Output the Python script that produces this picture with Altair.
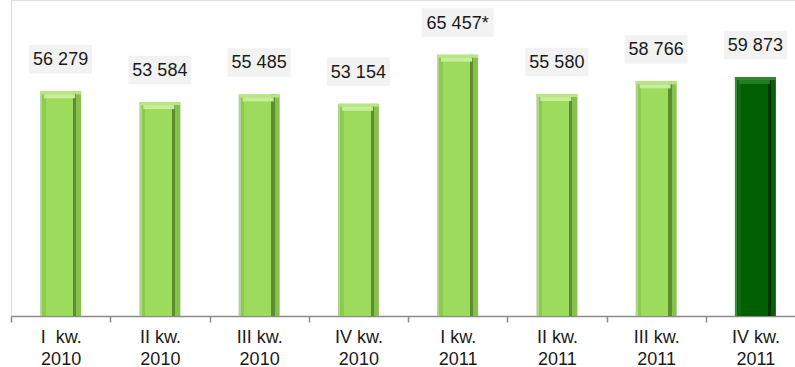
import altair as alt
import pandas as pd

quarters = ["I\u00a0 kw.", "II kw.", "III kw.", "IV kw.", "I kw.", "II kw.", "III kw.", "IV kw."]
years = ["2010", "2010", "2010", "2010", "2011", "2011", "2011", "2011"]
values = [56279, 53584, 55485, 53154, 65457, 55580, 58766, 59873]
labels = ["56 279", "53 584", "55 485", "53 154", "65 457*", "55 580", "58 766", "59 873"]
highlight = [False, False, False, False, False, False, False, True]

df = pd.DataFrame({
    "cat": [q + "|" + y for q, y in zip(quarters, years)],
    "value": values,
    "label": labels,
    "hl": highlight,
})

FONT = "Liberation Sans Narrow, Arial Narrow, Liberation Sans, sans-serif"
order = list(df["cat"])

x = alt.X("cat:N", sort=order, title=None,
          scale=alt.Scale(range=[0, 794], paddingInner=0, paddingOuter=0),
          axis=alt.Axis(labelExpr="split(datum.label, '|')", labelAngle=0,
                        tickBand="extent", labelFont=FONT, labelFontSize=18,
                        labelColor="#1a1a1a", labelLineHeight=22, labelPadding=6,
                        domainColor="#8a8a8a", domainWidth=1.5, tickColor="#8a8a8a",
                        tickWidth=1.5, tickSize=6, grid=False))
y = alt.Y("value:Q", scale=alt.Scale(domain=[0, 79140]), axis=None)

base = alt.Chart(df)

light_grad = alt.Gradient(gradient="linear", x1=0, y1=0, x2=1, y2=0, stops=[
    alt.GradientStop(offset=0, color="#b3cf9a"),
    alt.GradientStop(offset=0.056, color="#b3cf9a"),
    alt.GradientStop(offset=0.057, color="#8ccb4c"),
    alt.GradientStop(offset=0.14, color="#8ccb4c"),
    alt.GradientStop(offset=0.141, color="#9ddb5c"),
    alt.GradientStop(offset=0.8, color="#9ddb5c"),
    alt.GradientStop(offset=0.801, color="#5c8c33"),
    alt.GradientStop(offset=0.88, color="#5c8c33"),
    alt.GradientStop(offset=0.881, color="#86c249"),
    alt.GradientStop(offset=1, color="#86c249"),
])
dark_grad = alt.Gradient(gradient="linear", x1=0, y1=0, x2=1, y2=0, stops=[
    alt.GradientStop(offset=0, color="#3d8a3d"),
    alt.GradientStop(offset=0.056, color="#3d8a3d"),
    alt.GradientStop(offset=0.057, color="#0b6a0b"),
    alt.GradientStop(offset=0.14, color="#0b6a0b"),
    alt.GradientStop(offset=0.141, color="#005f00"),
    alt.GradientStop(offset=0.8, color="#005f00"),
    alt.GradientStop(offset=0.801, color="#003400"),
    alt.GradientStop(offset=0.88, color="#003400"),
    alt.GradientStop(offset=0.881, color="#0c5e0c"),
    alt.GradientStop(offset=1, color="#0c5e0c"),
])

bars_light = base.transform_filter("!datum.hl").mark_bar(
    width=41, color=light_grad).encode(x=x, y=y)
bars_dark = base.transform_filter("datum.hl").mark_bar(
    width=41, color=dark_grad).encode(x=x, y=y)

top_light = base.transform_filter("!datum.hl").mark_tick(
    size=41, thickness=3, color="#b9e584", yOffset=1.5, opacity=1).encode(x=x, y=y)
top_light2 = base.transform_filter("!datum.hl").mark_tick(
    size=31, thickness=4, color="#c6ee98", yOffset=5, xOffset=-1, opacity=1).encode(x=x, y=y)
top_dark = base.transform_filter("datum.hl").mark_tick(
    size=41, thickness=3, color="#2f8a2f", yOffset=1.5, opacity=1).encode(x=x, y=y)
top_dark2 = base.transform_filter("datum.hl").mark_tick(
    size=31, thickness=4, color="#237e23", yOffset=5, xOffset=-1, opacity=1).encode(x=x, y=y)

boxes = base.transform_calculate(
    w="9 * length(datum.label) + 9"
).transform_calculate(
    h="28.6 / datum.w",
    sz="datum.w * datum.w",
).transform_calculate(
    path="'M-1,' + (-datum.h) + 'L1,' + (-datum.h) + 'L1,' + datum.h + 'L-1,' + datum.h + 'Z'"
).mark_point(filled=True, fill="#f2f2f2", opacity=1, strokeWidth=0, yOffset=-32).encode(
    x=x, y=y,
    shape=alt.Shape("path:N", scale=None, legend=None),
    size=alt.Size("sz:Q", scale=None, legend=None),
)

texts = base.mark_text(font=FONT, fontSize=18, color="#1a1a1a", dy=-31,
                       baseline="middle", align="center").encode(
    x=x, y=y, text="label:N")

chart = alt.layer(bars_light, bars_dark, top_light, top_light2, top_dark, top_dark2,
                  boxes, texts).properties(
    width=784, height=316,
    autosize=alt.AutoSizeParams(type="none"),
    padding={"left": 11, "top": 0, "right": 0, "bottom": 51},
).configure_view(stroke=None).configure(background="white")

chart.save("out.html", embed_options={"renderer": "svg", "actions": False})
